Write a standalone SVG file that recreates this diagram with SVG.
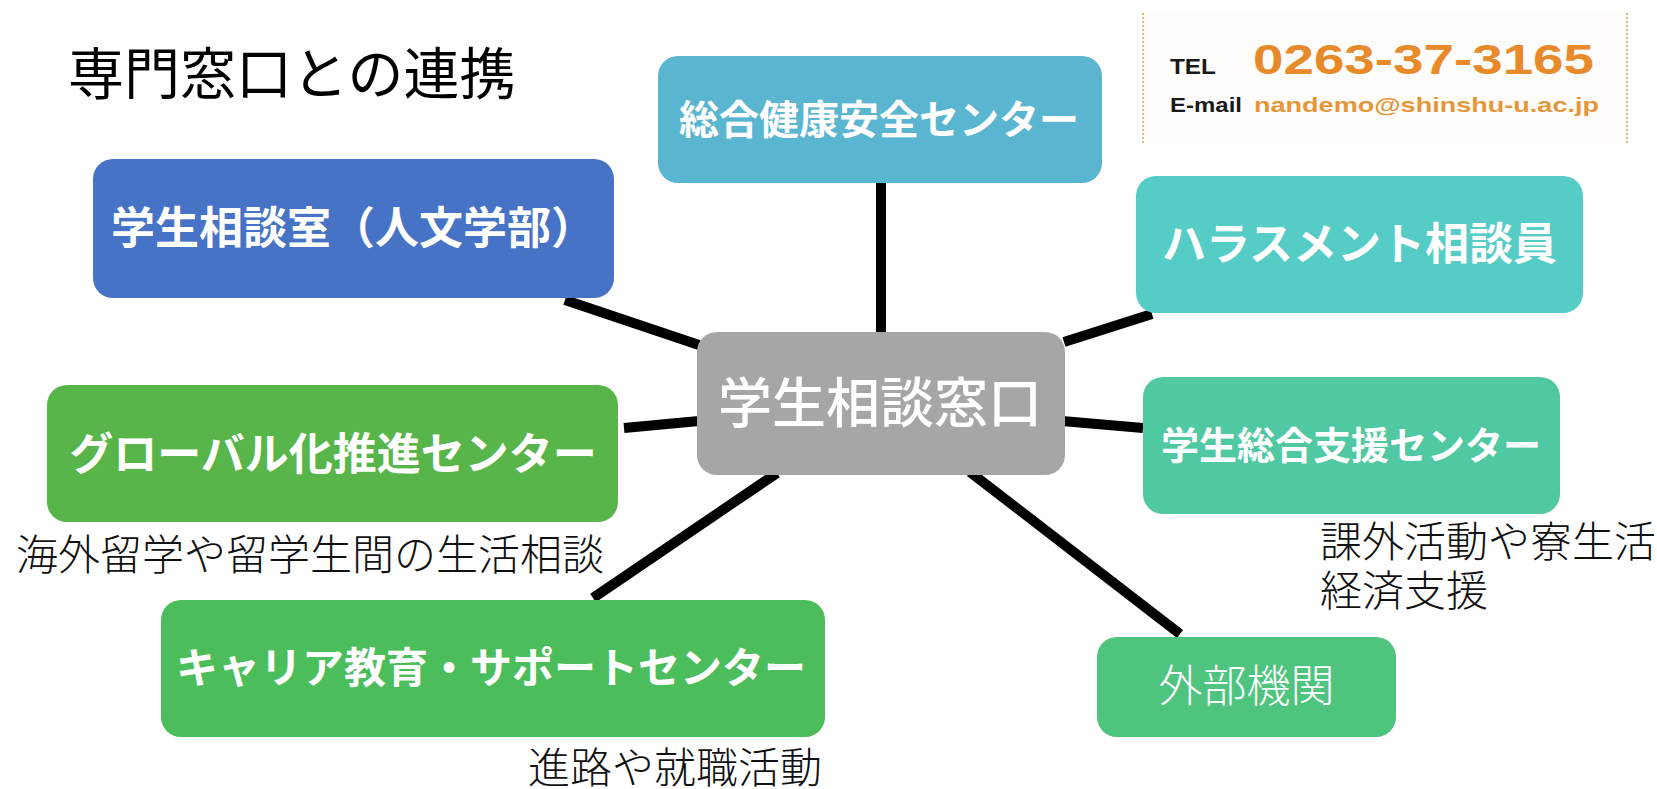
<svg xmlns="http://www.w3.org/2000/svg" width="1657" height="789" viewBox="0 0 1657 789">
<style>
.box-label{font-family:"Noto Sans CJK JP","Noto Sans",sans-serif;font-weight:700;fill:#FFFFFF;text-anchor:middle}
.note{font-family:"Noto Sans CJK JP","Noto Sans",sans-serif;font-weight:300;fill:#111111;font-size:42px}
.link{stroke:#000000;stroke-width:10;stroke-linecap:butt;fill:none}
.contact{font-family:"Liberation Sans",Arial,sans-serif;font-weight:700}
</style>
<rect x="0" y="0" width="1657" height="789" fill="#FFFFFF"/>

<text id="title" x="68" y="94" font-family="Noto Sans CJK JP, Noto Sans, sans-serif" font-size="56" fill="#000000">専門窓口との連携</text>

<g id="contact">
<rect x="1143" y="13" width="484" height="130" fill="#FEFDFB"/>
<line x1="1143" y1="13" x2="1143" y2="143" stroke="#D7A063" stroke-width="1.5" stroke-dasharray="2 2"/>
<line x1="1627" y1="13" x2="1627" y2="143" stroke="#D7A063" stroke-width="1.5" stroke-dasharray="2 2"/>
<text class="contact" x="1170" y="74" font-size="22" fill="#1A1A1A" textLength="46" lengthAdjust="spacingAndGlyphs">TEL</text>
<text class="contact" x="1253" y="74" font-size="42" fill="#E8892A" textLength="341" lengthAdjust="spacingAndGlyphs">0263-37-3165</text>
<text class="contact" x="1170" y="112" font-size="20" fill="#1A1A1A" textLength="72" lengthAdjust="spacingAndGlyphs">E-mail</text>
<text class="contact" x="1254" y="112" font-size="21" fill="#E5963A" textLength="345" lengthAdjust="spacingAndGlyphs">nandemo@shinshu-u.ac.jp</text>
</g>

<g id="connectors">
<line class="link" x1="881" y1="183" x2="881" y2="334"/>
<line class="link" x1="565" y1="300" x2="699" y2="345"/>
<line class="link" x1="624" y1="428" x2="699" y2="421"/>
<line class="link" x1="1062" y1="421" x2="1143" y2="428"/>
<line class="link" x1="1064" y1="342" x2="1152" y2="314"/>
<line class="link" x1="777" y1="473" x2="593" y2="598"/>
<line class="link" x1="970" y1="472" x2="1180" y2="634"/>
</g>

<g id="node-health">
<rect x="658" y="56" width="444" height="127" rx="20" fill="#5AB5D0"/>
<text class="box-label" x="879" y="134" font-size="40">総合健康安全センター</text>
</g>

<g id="node-counseling-room">
<rect x="93" y="159" width="521" height="139" rx="20" fill="#4673C5"/>
<text class="box-label" x="353" y="244" font-size="44">学生相談室（人文学部）</text>
</g>

<g id="node-harassment">
<rect x="1136" y="176" width="447" height="137" rx="20" fill="#55CCC6"/>
<text class="box-label" x="1359.5" y="260" font-size="44">ハラスメント相談員</text>
</g>

<g id="node-center">
<rect x="697" y="332" width="368" height="143" rx="20" fill="#A6A6A6"/>
<text class="box-label" x="880" y="423" font-size="54" style="font-weight:500">学生相談窓口</text>
</g>

<g id="node-global">
<rect x="47" y="385" width="571" height="137" rx="20" fill="#57B549"/>
<text class="box-label" x="333" y="470" font-size="44">グローバル化推進センター</text>
</g>

<g id="node-support">
<rect x="1143" y="377" width="417" height="137" rx="20" fill="#50C8A2"/>
<text class="box-label" x="1351" y="459" font-size="38">学生総合支援センター</text>
</g>

<g id="node-career">
<rect x="161" y="600" width="664" height="137" rx="20" fill="#4BBE5B"/>
<text class="box-label" x="491" y="683" font-size="42">キャリア教育・サポートセンター</text>
</g>

<g id="node-external">
<rect x="1097" y="637" width="299" height="100" rx="20" fill="#4EC47E"/>
<text class="box-label" x="1246.5" y="702" font-size="44" style="font-weight:300">外部機関</text>
</g>

<g id="notes">
<text class="note" x="16" y="570">海外留学や留学生間の生活相談</text>
<text class="note" x="1320" y="557">課外活動や寮生活</text>
<text class="note" x="1320" y="606">経済支援</text>
<text class="note" x="528" y="783">進路や就職活動</text>
</g>
</svg>
